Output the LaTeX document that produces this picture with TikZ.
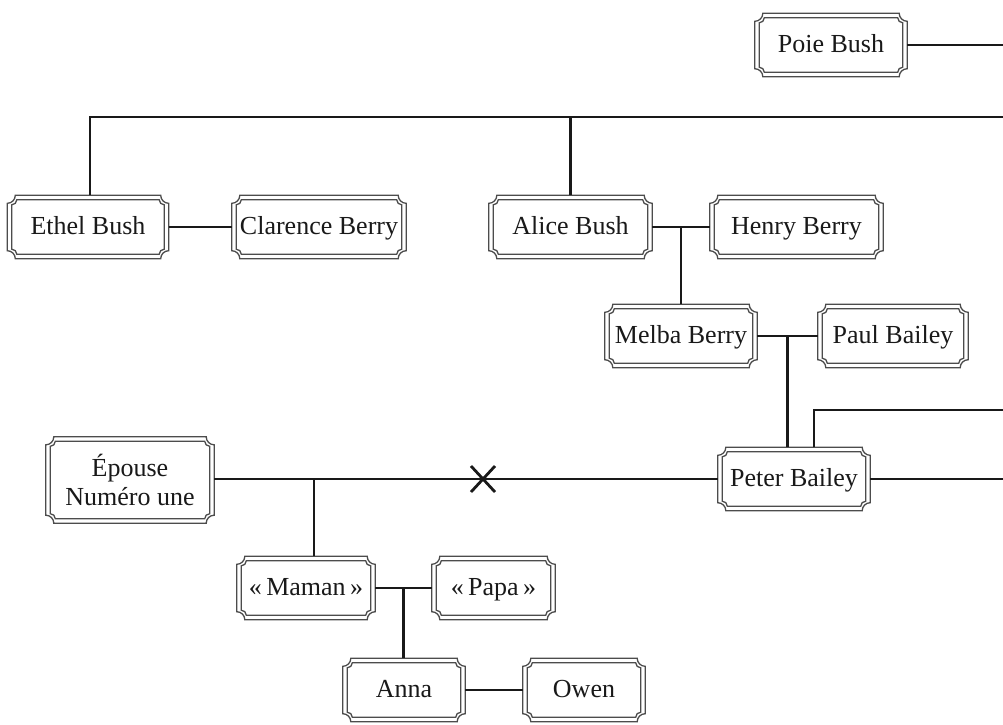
\documentclass[tikz,border=0pt]{standalone}
\usepackage{fontspec}
\setmainfont{Liberation Serif}
\usetikzlibrary{calc,backgrounds}
\tikzset{
  base/.style={inner sep=0pt, minimum height=63pt, align=center,
    font=\fontsize{26}{29}\selectfont, text=black!90},
  person/.style={base, text height=20pt, text depth=5pt},
  frame/.style={draw=black!70, line width=1.3pt, fill=white},
  link/.style={draw=black!90, line width=2.4pt},
  cross/.style={draw=black!90, line width=2.8pt}
}
\begin{document}
\begin{tikzpicture}[x=1pt,y=-1pt]
\useasboundingbox (0,0) rectangle (1003,724);
% nodes
\node[person, minimum width=152pt] (poie) at (831,45) {Poie Bush};
\node[person, minimum width=161pt] (ethel) at (88,227) {Ethel Bush};
\node[person, minimum width=174pt] (clarence) at (319,227) {Clarence Berry};
\node[person, minimum width=163pt] (alice) at (570.5,227) {Alice Bush};
\node[person, minimum width=173pt] (henry) at (796.5,227) {Henry Berry};
\node[person, minimum width=152pt] (melba) at (681,336) {Melba Berry};
\node[person, minimum width=150pt] (paul) at (893,336) {Paul Bailey};
\node[person, minimum width=152pt] (peter) at (794,479) {Peter Bailey};
\node[base, minimum width=168pt, minimum height=86pt] (epouse) at (130,480) {Épouse\\Numéro une};
\node[person, minimum width=138pt] (maman) at (306,588) {«\,Maman\,»};
\node[person, minimum width=123pt] (papa) at (493.5,588) {«\,Papa\,»};
\node[person, minimum width=122pt] (anna) at (404,690) {Anna};
\node[person, minimum width=122pt] (owen) at (584,690) {Owen};
% free ends and junctions
\coordinate (poieR) at (1003,45);
\coordinate (topR) at (1003,117);
\coordinate (peterUpR) at (1003,410);
\coordinate (peterR) at (1003,479);
\coordinate (divorce) at (483,479);
\coordinate (mamanDrop) at (314,479);
\coordinate (j1) at ($(alice.east)!.5!(henry.west)$);
\coordinate (j2) at ($(melba.east)!.5!(paul.west)$);
\coordinate (j3) at ($(maman.east)!.5!(papa.west)$);
% connectors
\draw[link] (poie.east) -- (poieR);
\draw[link] ([xshift=2pt]ethel.north) |- (topR);
\draw[link] (alice.north) -- (alice.north |- topR);
\draw[link] (ethel.east) -- (clarence.west);
\draw[link] (alice.east) -- (henry.west);
\draw[link] (j1) -- (j1 |- melba.north);
\draw[link] (melba.east) -- (paul.west);
\draw[link] (j2) -- (j2 |- peter.north);
\draw[link] ([xshift=20pt]peter.north) |- (peterUpR);
\draw[link] (peter.east) -- (peterR);
\draw[link] (epouse.east |- peter.west) -- (peter.west);
\draw[link] (mamanDrop) -- (mamanDrop |- maman.north);
\draw[link] (maman.east) -- (papa.west);
\draw[link] (j3) -- (j3 |- anna.north);
\draw[link] (anna.east) -- (owen.west);
\draw[cross] ([shift={(-12,-13)}]divorce) -- ([shift={(12,13)}]divorce);
\draw[cross] ([shift={(-12,13)}]divorce) -- ([shift={(12,-13)}]divorce);
% frames
\begin{pgfonlayer}{background}
\foreach \nm in {poie,ethel,clarence,alice,henry,melba,paul,peter,epouse,maman,papa,anna,owen}{
  \foreach \d/\r in {0pt/8pt,4.5pt/5pt}{
    \draw[frame] let \p1=(\nm.south west), \p2=(\nm.north east) in
      (\x1+\d+\r, \y2-\d) -- (\x2-\d-\r, \y2-\d)
      arc[start angle=180, end angle=270, radius=\r]
      -- (\x2-\d, \y1+\d+\r)
      arc[start angle=90, end angle=180, radius=\r]
      -- (\x1+\d+\r, \y1+\d)
      arc[start angle=0, end angle=90, radius=\r]
      -- (\x1+\d, \y2-\d-\r)
      arc[start angle=270, end angle=360, radius=\r]
      -- cycle;
  }
}
\end{pgfonlayer}
\end{tikzpicture}
\end{document}
